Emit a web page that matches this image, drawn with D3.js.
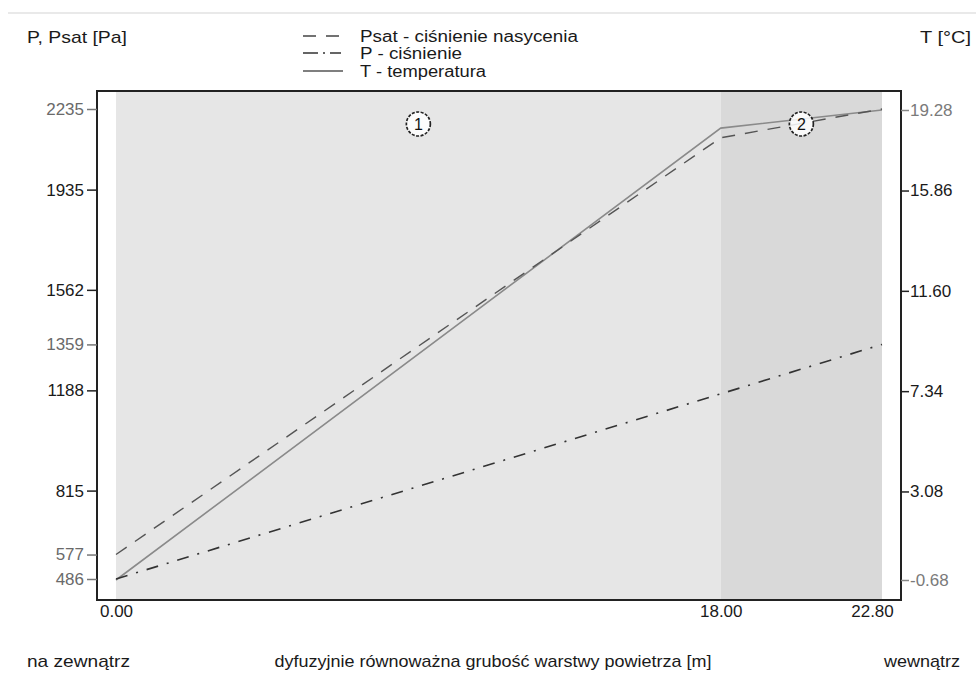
<!DOCTYPE html>
<html>
<head>
<meta charset="utf-8">
<script src="https://cdn.jsdelivr.net/npm/d3@7/dist/d3.min.js"></script>
<style>
  html, body { margin: 0; padding: 0; background: #fff; }
  svg text { font-family: "Liberation Sans", Arial, sans-serif; }
</style>
</head>
<body>
<svg id="chart" width="976" height="675"></svg>
<script>
// ---- data ----
const layerBounds = [0, 18, 22.8];          // diffusion-equivalent thickness [m]
const layerNames = ["1", "2"];
const distance = [0, 18, 22.8];              // x positions of series points
const psat = [577, 2128, 2235];              // Psat [Pa]
const pressure = [486, 1175, 1359];          // P [Pa]
const temperature = [-0.68, 18.51, 19.28];   // T [°C]
const leftTicks = [486, 577, 815, 1188, 1359, 1562, 1935, 2235];
const rightTicks = [-0.68, 3.08, 7.34, 11.60, 15.86, 19.28];
const bottomTicks = [0, 18, 22.8];
const leftGray = [2235, 1359, 577, 486];
const rightGray = [19.28, -0.68];

// ---- layout ----
const svg = d3.select("#chart");
const frame = { left: 97, right: 901, top: 91, bottom: 600 };

const x = d3.scaleLinear().domain([0, 22.8]).range([116, 882]);
const yP = d3.scaleLinear().domain([486, 2235]).range([579, 109]);
const yT = d3.scaleLinear().domain([-0.68, 19.28]).range([580, 110]);

// top thin separator
svg.append("line").attr("x1", 8).attr("x2", 976).attr("y1", 13).attr("y2", 13)
  .attr("stroke", "#e2e2e2").attr("stroke-width", 1.5);

// frame background
svg.append("rect").attr("x", frame.left).attr("y", frame.top)
  .attr("width", frame.right - frame.left).attr("height", frame.bottom - frame.top)
  .attr("fill", "#fff");

// layer shading
const layerFill = ["#e6e6e6", "#d9d9d9"];
layerNames.forEach((n, i) => {
  svg.append("rect")
    .attr("x", x(layerBounds[i])).attr("y", frame.top)
    .attr("width", x(layerBounds[i + 1]) - x(layerBounds[i]))
    .attr("height", frame.bottom - frame.top)
    .attr("fill", layerFill[i]);
});

// series
const ptsPsat = distance.map((d, i) => [x(d), yP(psat[i])]);
const ptsP = distance.map((d, i) => [x(d), yP(pressure[i])]);
const ptsT = distance.map((d, i) => [x(d), yT(temperature[i])]);
const line = d3.line();

svg.append("path").attr("d", line(ptsT)).attr("fill", "none")
  .attr("stroke", "#8a8a8a").attr("stroke-width", 1.6);
svg.append("path").attr("d", line(ptsPsat)).attr("fill", "none")
  .attr("stroke", "#555").attr("stroke-width", 1.4).attr("stroke-dasharray", "13,10");
svg.append("path").attr("d", line(ptsP)).attr("fill", "none")
  .attr("stroke", "#333").attr("stroke-width", 1.6).attr("stroke-dasharray", "12,9,2,9");

// layer circles
layerNames.forEach((n, i) => {
  const cx = x((layerBounds[i] + layerBounds[i + 1]) / 2);
  const cy = 124;
  svg.append("circle").attr("cx", cx).attr("cy", cy).attr("r", 12)
    .attr("fill", "#fff").attr("fill-opacity", 0.85)
    .attr("stroke", "#222").attr("stroke-width", 1.7).attr("stroke-dasharray", "3,1.5");
  svg.append("text").attr("x", cx).attr("y", cy).attr("dy", "0.36em")
    .attr("text-anchor", "middle").attr("font-size", 16).attr("fill", "#111").text(n);
});

// frame border
svg.append("rect").attr("x", frame.left).attr("y", frame.top)
  .attr("width", frame.right - frame.left).attr("height", frame.bottom - frame.top)
  .attr("fill", "none").attr("stroke", "#222").attr("stroke-width", 2);

const fmt2 = v => d3.format(".2f")(v).replace("\u2212", "-");

// left axis
const gL = svg.append("g").attr("transform", `translate(${frame.left},0)`)
  .call(d3.axisLeft(yP).tickValues(leftTicks).tickSize(10).tickPadding(3).tickFormat(d3.format("d")));
gL.select(".domain").remove();
gL.selectAll(".tick line").attr("stroke", d => leftGray.includes(d) ? "#777" : "#222").attr("stroke-width", 1.5);
gL.selectAll(".tick text").attr("font-size", 17).attr("font-family", "Liberation Sans, Arial, sans-serif")
  .attr("fill", d => leftGray.includes(d) ? "#6a6a6a" : "#1a1a1a");

// right axis
const gR = svg.append("g").attr("transform", `translate(${frame.right},0)`)
  .call(d3.axisRight(yT).tickValues(rightTicks).tickSize(8).tickPadding(1).tickFormat(fmt2));
gR.select(".domain").remove();
gR.selectAll(".tick line").attr("stroke", d => rightGray.includes(d) ? "#888" : "#222").attr("stroke-width", 1.5);
gR.selectAll(".tick text").attr("font-size", 17).attr("font-family", "Liberation Sans, Arial, sans-serif")
  .attr("fill", d => rightGray.includes(d) ? "#7a7a7a" : "#1a1a1a");

// bottom axis
const gB = svg.append("g").attr("transform", `translate(0,${frame.bottom})`)
  .call(d3.axisBottom(x).tickValues(bottomTicks).tickSize(0).tickPadding(5).tickFormat(fmt2));
gB.select(".domain").remove();
gB.selectAll(".tick text").attr("font-size", 17).attr("font-family", "Liberation Sans, Arial, sans-serif")
  .attr("fill", "#1a1a1a")
  .attr("dx", d => d === 22.8 ? -10 : 0);

// titles
function txt(xp, yp, s, opts = {}) {
  const t = svg.append("text").attr("x", xp).attr("y", yp).attr("dy", "0.35em")
    .attr("font-size", opts.size || 17).attr("fill", opts.fill || "#1a1a1a")
    .attr("text-anchor", opts.anchor || "start").text(s);
  if (opts.len) t.attr("textLength", opts.len).attr("lengthAdjust", "spacingAndGlyphs");
  return t;
}
txt(27, 37, "P, Psat [Pa]", { len: 100 });
txt(971, 37, "T [°C]", { anchor: "end", len: 51 });
txt(27, 661, "na zewnątrz", { len: 103 });
txt(493, 661, "dyfuzyjnie równoważna grubość warstwy powietrza [m]", { anchor: "middle", len: 437 });
txt(960, 661, "wewnątrz", { anchor: "end", len: 76 });

// legend
const legend = [
  { label: "Psat - ciśnienie nasycenia", dash: "13,10", y: 36, len: 218, color: "#444" },
  { label: "P - ciśnienie", dash: "15,5,2,5,11", y: 53, len: 102, color: "#333" },
  { label: "T - temperatura", dash: null, y: 71, len: 126, color: "#555" }
];
legend.forEach(l => {
  const ln = svg.append("line").attr("x1", 303).attr("x2", 343).attr("y1", l.y).attr("y2", l.y)
    .attr("stroke", l.color).attr("stroke-width", 1.4);
  if (l.dash) ln.attr("stroke-dasharray", l.dash);
  txt(360, l.y, l.label, { len: l.len, size: 16 });
});
</script>
</body>
</html>
